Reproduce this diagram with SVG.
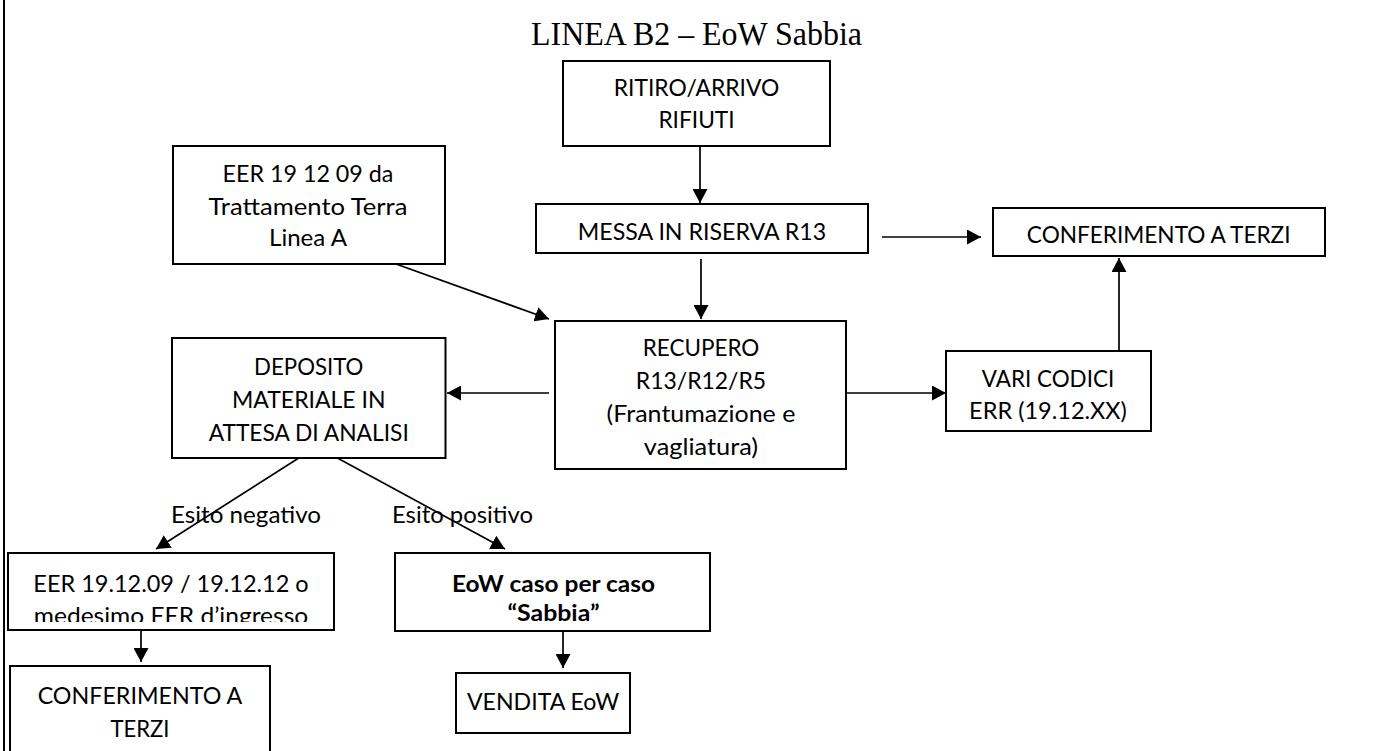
<svg xmlns="http://www.w3.org/2000/svg" width="1390" height="751" viewBox="0 0 1390 751">
<style>
.box{fill:#fff;stroke:#000;stroke-width:2}
.t{font-family:Lato,"Open Sans","Liberation Sans",sans-serif;font-size:23px;fill:#000;text-anchor:middle}
.b{font-weight:bold}
.lbl{text-anchor:start}
.ttl{font-family:"Liberation Serif","Times New Roman",serif;font-size:33px;fill:#000;text-anchor:middle}
.c{stroke:#000;stroke-width:1.7;fill:none;marker-end:url(#ah)}
</style>
<defs>
<marker id="ah" markerUnits="userSpaceOnUse" markerWidth="15" markerHeight="15" refX="14" refY="7.5" orient="auto">
<path d="M0,0 L14,7.5 L0,15 z" fill="#000"/>
</marker>
<clipPath id="clipB"><rect x="0" y="553" width="760" height="69"/></clipPath>
</defs>
<rect width="1390" height="751" fill="#fff"/>
<line x1="4" y1="0" x2="4" y2="751" stroke="#000" stroke-width="2"/>
<text class="ttl" x="696.5" y="45" textLength="331" lengthAdjust="spacingAndGlyphs">LINEA B2 – EoW Sabbia</text>

<g id="connectors">
<line class="c" x1="700" y1="142" x2="700" y2="203"/>
<line class="c" x1="701" y1="259" x2="701" y2="319"/>
<line class="c" x1="882" y1="237" x2="981" y2="237"/>
<line class="c" x1="396" y1="264" x2="549" y2="319"/>
<line class="c" x1="549" y1="393" x2="447" y2="393"/>
<line class="c" x1="846" y1="393" x2="946" y2="393"/>
<line class="c" x1="1119" y1="362" x2="1119" y2="258"/>
<line class="c" x1="303.5" y1="455" x2="156" y2="549"/>
<line class="c" x1="330" y1="454" x2="505" y2="549"/>
<line class="c" x1="141" y1="625" x2="141" y2="662"/>
<line class="c" x1="563" y1="632" x2="563" y2="668"/>
</g>

<g id="ritiro">
<rect class="box" x="563" y="61" width="267" height="85"/>
<text class="t" x="696.5" y="96" textLength="165.6" lengthAdjust="spacingAndGlyphs">RITIRO/ARRIVO</text>
<text class="t" x="696.5" y="128" textLength="76.2" lengthAdjust="spacingAndGlyphs">RIFIUTI</text>
</g>

<g id="messa">
<rect class="box" x="536" y="204" width="332" height="49"/>
<text class="t" x="702" y="240" textLength="248.3" lengthAdjust="spacingAndGlyphs">MESSA IN RISERVA R13</text>
</g>

<g id="conferimento-terzi-1">
<rect class="box" x="993" y="208" width="332" height="48"/>
<text class="t" x="1158.7" y="242.7" textLength="263.7" lengthAdjust="spacingAndGlyphs">CONFERIMENTO A TERZI</text>
</g>

<g id="eer-linea-a">
<rect class="box" x="173" y="146" width="272" height="118"/>
<text class="t" x="308" y="181.7" textLength="170.8" lengthAdjust="spacingAndGlyphs">EER 19 12 09 da</text>
<text class="t" x="308" y="215" textLength="198.9" lengthAdjust="spacingAndGlyphs">Trattamento Terra</text>
<text class="t" x="308" y="246" textLength="78" lengthAdjust="spacingAndGlyphs">Linea A</text>
</g>

<g id="recupero">
<rect class="box" x="555" y="321" width="291" height="148"/>
<text class="t" x="701" y="356" textLength="116.6" lengthAdjust="spacingAndGlyphs">RECUPERO</text>
<text class="t" x="701" y="389" textLength="130.3" lengthAdjust="spacingAndGlyphs">R13/R12/R5</text>
<text class="t" x="701" y="422" textLength="188.8" lengthAdjust="spacingAndGlyphs">(Frantumazione e</text>
<text class="t" x="701" y="455" textLength="114.3" lengthAdjust="spacingAndGlyphs">vagliatura)</text>
</g>

<g id="vari-codici">
<rect class="box" x="946" y="351" width="205" height="80"/>
<text class="t" x="1048" y="386.7" textLength="132.4" lengthAdjust="spacingAndGlyphs">VARI CODICI</text>
<text class="t" x="1048" y="418.5" textLength="157.8" lengthAdjust="spacingAndGlyphs">ERR (19.12.XX)</text>
</g>

<g id="deposito">
<rect class="box" x="172" y="338" width="273.5" height="120"/>
<text class="t" x="308.75" y="375" textLength="109.3" lengthAdjust="spacingAndGlyphs">DEPOSITO</text>
<text class="t" x="308.75" y="408" textLength="153.5" lengthAdjust="spacingAndGlyphs">MATERIALE IN</text>
<text class="t" x="308.75" y="441" textLength="200.2" lengthAdjust="spacingAndGlyphs">ATTESA DI ANALISI</text>
</g>

<g id="labels">
<text class="t lbl" x="171" y="523.3" textLength="150" lengthAdjust="spacingAndGlyphs">Esito negativo</text>
<text class="t lbl" x="392" y="523.3" textLength="141" lengthAdjust="spacingAndGlyphs">Esito positivo</text>
</g>

<g id="eer-negativo">
<rect class="box" x="8" y="553" width="326" height="77"/>
<g clip-path="url(#clipB)">
<text class="t" x="171" y="592" textLength="275.3" lengthAdjust="spacingAndGlyphs">EER 19.12.09 / 19.12.12 o</text>
<text class="t" x="171" y="624" textLength="274.4" lengthAdjust="spacingAndGlyphs">medesimo EER d’ingresso</text>
</g>
</g>

<g id="eow-sabbia">
<rect class="box" x="395" y="553" width="315" height="78"/>
<g clip-path="url(#clipB)">
<text class="t b" x="553.5" y="592" textLength="203" lengthAdjust="spacingAndGlyphs">EoW caso per caso</text>
<text class="t b" x="553.5" y="621" textLength="92" lengthAdjust="spacingAndGlyphs">“Sabbia”</text>
</g>
</g>

<g id="conferimento-terzi-2">
<rect class="box" x="10" y="666" width="260" height="100"/>
<text class="t" x="140" y="704" textLength="204.7" lengthAdjust="spacingAndGlyphs">CONFERIMENTO A</text>
<text class="t" x="140" y="737" textLength="59.1" lengthAdjust="spacingAndGlyphs">TERZI</text>
</g>

<g id="vendita">
<rect class="box" x="456" y="673" width="174" height="60"/>
<text class="t" x="543" y="710" textLength="152.2" lengthAdjust="spacingAndGlyphs">VENDITA EoW</text>
</g>
</svg>
